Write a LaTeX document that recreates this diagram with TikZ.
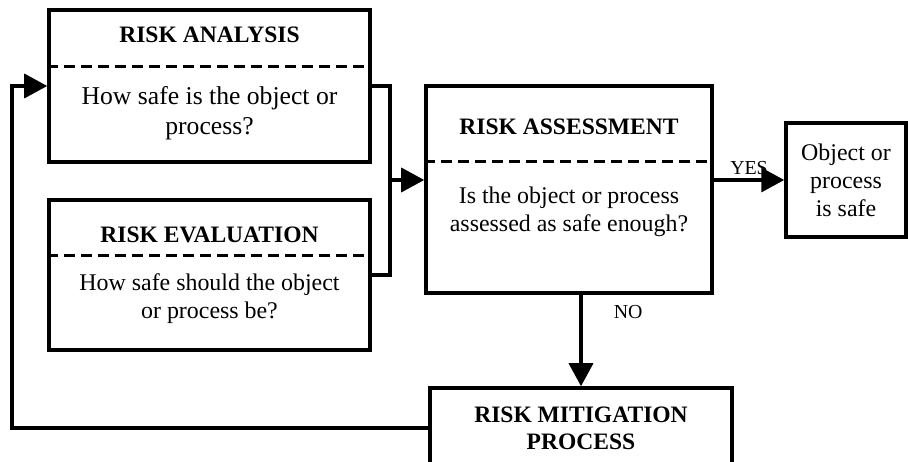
\documentclass[tikz,border=0pt]{standalone}
\usepackage{fontspec}
\setmainfont{Liberation Serif}
\usetikzlibrary{calc,arrows.meta}

\begin{document}
\begin{tikzpicture}[
    box/.style={draw, line width=2pt, inner sep=0pt},
    heading/.style={font=\fontsize{13.4}{15.3}\selectfont\bfseries, align=center},
    body/.style={font=\fontsize{13.6}{15.9}\selectfont, align=center},
    divider/.style={dash pattern=on 0.22cm off 0.12cm, line width=1.2pt},
    link/.style={line width=2pt},
    flow/.style={line width=2pt, -{Triangle[length=0.46cm,width=0.48cm]}},
    answer/.style={font=\fontsize{11.3}{13}\selectfont, inner sep=2pt}
]

    \useasboundingbox (0,0) rectangle (18.16,9.24);
    \clip (0,0) rectangle (18.16,9.24);

    %% Risk analysis and evaluation

    % Analysis
    \node[box, minimum width=6.42cm, minimum height=3.04cm] (ana) at (4.19,7.52) {};
    \node[heading] (anatitle) at (4.19,8.54) {RISK ANALYSIS};
    \node[body, font=\fontsize{14.6}{17}\selectfont] (anatext) at (4.19,6.98) {How safe is the object or\\process?};
    \draw[divider] ($(ana.north west)!0.375!(ana.south west)$) -- ($(ana.north east)!0.375!(ana.south east)$);

    % Evaluation
    \node[box, minimum width=6.42cm, minimum height=3.0cm] (eval) at (4.19,3.74) {};
    \node[heading] (evaltitle) at (4.19,4.54) {RISK EVALUATION};
    \node[body] (evaltext) at (4.19,3.26) {How safe should the object\\or process be?};
    \draw[divider] ($(eval.north west)!0.373!(eval.south west)$) -- ($(eval.north east)!0.373!(eval.south east)$);

    %% Assessment

    \node[box, minimum width=5.72cm, minimum height=4.14cm] (assess) at (11.38,5.45) {};
    \node[heading] (assesstitle) at (11.38,6.70) {RISK ASSESSMENT};
    \node[body] (assesstext) at (11.38,5.00) {Is the object or process\\assessed as safe enough?};
    \draw[divider] ($(assess.north west)!0.367!(assess.south west)$) -- ($(assess.north east)!0.367!(assess.south east)$);

    % Outcomes
    \node[box, body, minimum width=2.40cm, minimum height=2.28cm] (safe) at (16.92,5.64) {Object or\\process\\is safe};
    \node[box, heading, minimum width=6.04cm, minimum height=1.6cm] (mit) at (11.62,0.68) {RISK MITIGATION\\PROCESS};

    %% Connectors
    \coordinate (join) at (7.80,5.64);
    \coordinate (back) at (0.24,0.68);

    \draw[link] (ana.east) -| (join) |- (eval.east);
    \draw[flow] (join) -- (join -| assess.west);
    \draw[flow] (assess.east |- safe.west) -- (safe.west) node[answer, midway, above] {YES};
    \draw[flow] (assess.south -| mit.north) -- (mit.north) node[answer, pos=0.19, right=0.55cm] {NO};
    \draw[flow] (mit.west) -- (back) |- (ana.west);

\end{tikzpicture}
\end{document}
